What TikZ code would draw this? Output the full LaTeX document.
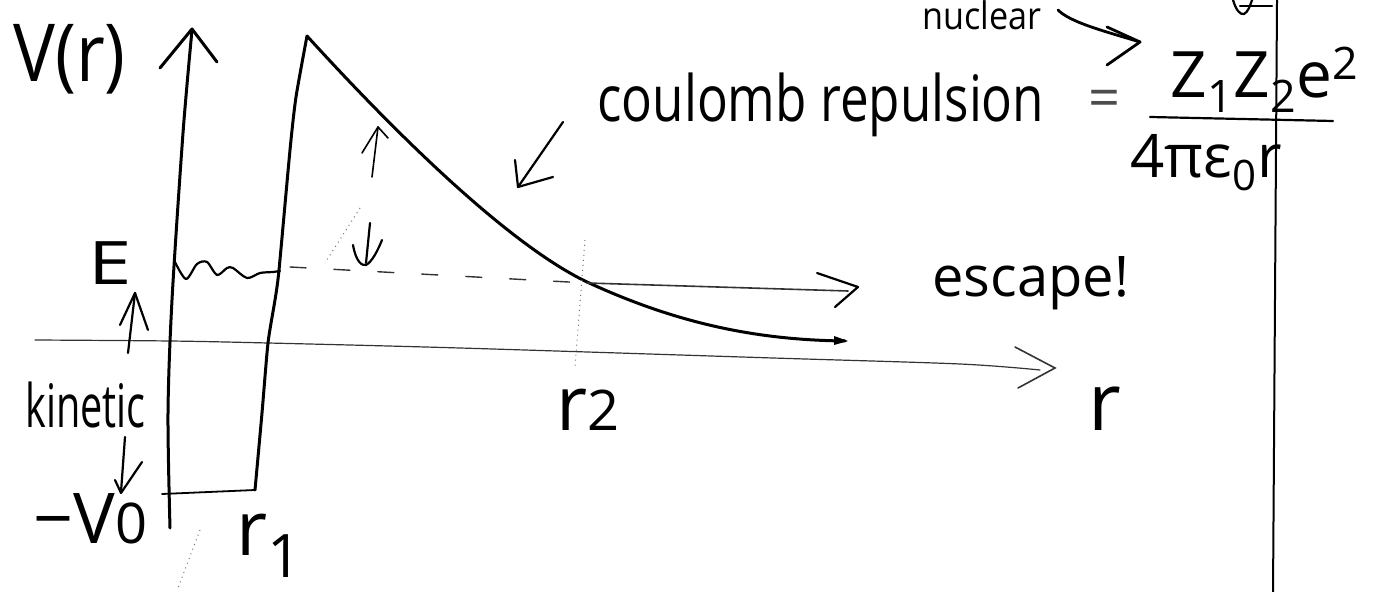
\documentclass[tikz,border=0pt]{standalone}
\usepackage{fontspec}
\setmainfont{Open Sans}
\usetikzlibrary{arrows.meta}
\begin{document}
\begin{tikzpicture}[x=0.5pt,y=-0.5pt,
  wall/.style={line width=1.5pt, line cap=round, line join=round},
  pen/.style={line width=1.1pt, line cap=round, line join=round},
  thinpen/.style={line width=0.6pt, black!80, line cap=round},
  faint/.style={line width=0.5pt, black!55, dotted},
  lbl/.style={inner sep=0pt, anchor=base west},
  fs/.style={font=\fontsize{#1pt}{#1pt}\selectfont}]
\path[use as bounding box] (0,0) rectangle (1379,592);
\clip (0,0) rectangle (1379,592);

% labels
\node[lbl, fs=40, xscale=0.88] (Vr) at (13,82) {V(r)};
\node[lbl, fs=30, xscale=1.3] (E) at (88,285) {E};
\node[lbl, fs=30, xscale=0.66] (kin) at (25,428) {kinetic};
\node[lbl, fs=35] (V0) at (33,543) {−V{\fontsize{28pt}{28pt}\selectfont 0}};
\node[lbl, fs=38] (r1) at (236,555) {r{\fontsize{30pt}{30pt}\selectfont\raisebox{-11pt}{1}}};
\node[lbl, fs=38] (r2) at (556,430) {r{\fontsize{28pt}{28pt}\selectfont 2}};
\node[lbl, fs=40] (rr) at (1088,430) {r};
\node[lbl, fs=32, xscale=0.8] (coul) at (597,122) {coulomb repulsion};
\node[lbl, fs=28, black!70] (eq) at (1088,118) {=};
\node[inner sep=0pt, fs=32] (num) at (1265,80) {Z\textsubscript{1}Z\textsubscript{2}e\textsuperscript{2}};
\node[inner sep=0pt, fs=30] (den) at (1206,163) {4πε\textsubscript{0}r};
\node[lbl, fs=28] (esc) at (932,297) {escape!};
\node[lbl, fs=19, xscale=0.9] (nuc) at (922,30) {nuclear};

% page edge line
\draw[line width=1pt] (1277,0) -- (1273,592);
% fraction bar
\draw[pen] (1150,117) -- (1333,121);

% r axis
\draw[thinpen] plot[smooth] coordinates {(35,340) (170,341) (268,343) (460,348) (773,358) (960,364) (1040,370)};
\draw[thinpen, line width=0.8pt] (1015,347) -- (1055,368) -- (1018,388);

% left wall / V axis
\draw[wall] plot[smooth] coordinates {(170,528) (168,413) (172,300) (183,133) (192,30)};
\draw[wall] (160,68) -- (192,29) -- (217,62);

% bottom of well
\draw[pen, line width=0.9pt] (162,494) -- (255,490);

% right wall + coulomb curve
\draw[wall] plot[smooth, tension=0.4] coordinates {(255,490) (262,413) (268,343) (275,300) (279,270) (290,150) (296,97) (307,36)};
\draw[wall] (307,36) .. controls (420,160) and (520,250) .. (587,282)
  .. controls (680,325) and (760,340) .. (845,341);
\fill (834,336) -- (848,341) -- (834,345) -- cycle;

% energy level
\draw[thinpen, line width=0.7pt, dash pattern=on 8pt off 14pt] (290,267) -- (587,283);
\draw[thinpen, line width=0.8pt] (587,283) -- (848,291);
\draw[pen] (817,273) -- (858,287) -- (835,307);

% wavy level inside the well
\draw[pen] plot[smooth, tension=0.5] coordinates {(175,262) (186,279) (197,264) (207,262) (217,275) (227,268) (233,268) (247,278) (260,273) (273,272) (280,271)};

% up arrow to E
\draw[pen] (128,353) -- (135,293);
\draw[pen] (120,325) -- (135,293) -- (148,330);
% kinetic down arrow
\draw[pen] (125,437) -- (121,492);
\draw[pen] (115,480) -- (121,493) -- (142,462);

% small up arrow under the barrier
\draw[pen, line width=0.8pt] (372,177) -- (378,127);
\draw[pen, line width=0.8pt] (362,153) -- (378,127) -- (388,138);
% small down arrow
\draw[pen] (370,223) -- (366,263);
\draw[pen] (353,245) .. controls (356,262) and (362,266) .. (366,265) .. controls (372,262) and (378,250) .. (382,240);

% coulomb pointer
\draw[pen] (563,122) -- (518,187);
\draw[pen] (515,160) -- (518,187) -- (553,177);

% top right chevron and mark
\draw[pen, line width=1.4pt] (1058,10) .. controls (1070,22) and (1100,30) .. (1140,42);
\draw[pen, line width=1.4pt] (1107,27) -- (1140,42) -- (1107,65);
\draw[pen] (1233,0) .. controls (1236,10) and (1240,15) .. (1244,14) .. controls (1248,12) and (1250,6) .. (1252,0);
\draw[pen] (1240,6) -- (1272,6);

% faint marks
\draw[faint] (360,208) -- (325,263);
\draw[faint] (585,240) -- (575,367);
\draw[faint] (200,530) -- (178,588);
\end{tikzpicture}
\end{document}
